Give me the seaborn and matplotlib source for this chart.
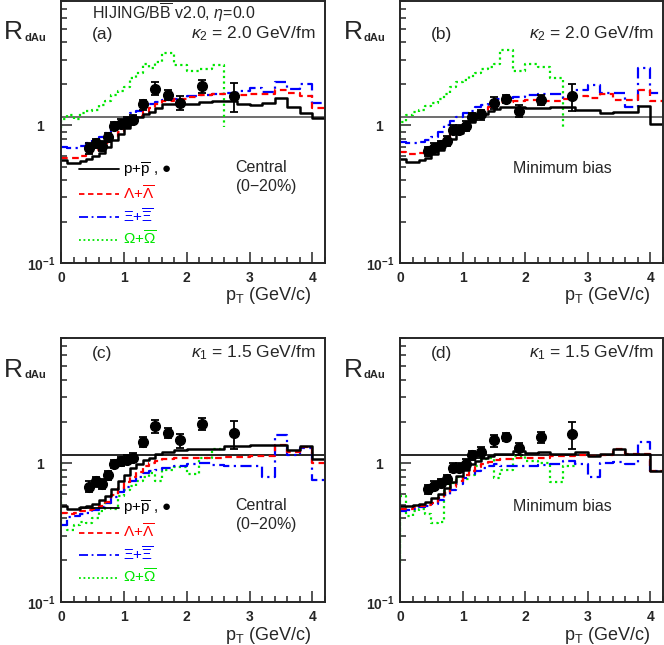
import numpy as np
import matplotlib
matplotlib.use("Agg")
import matplotlib.pyplot as plt
from matplotlib.ticker import MultipleLocator, LogLocator, NullFormatter
from matplotlib.lines import Line2D
import seaborn as sns

# bin edges of the model histograms (GeV/c)
edges = [0.0, 0.1, 0.2, 0.3, 0.4, 0.5, 0.6, 0.7, 0.8, 0.9, 1.0, 1.1, 1.2, 1.3, 1.4, 1.5,
         1.6, 1.8, 2.0, 2.2, 2.4, 2.6, 2.8, 3.0, 3.2, 3.4, 3.6, 3.8, 4.0, 4.2]

# (a) central, kappa2
pp_a = [0.56, 0.53, 0.53, 0.55, 0.57, 0.60, 0.63, 0.70, 0.78, 0.86, 0.95, 1.05, 1.14, 1.20, 1.26, 1.33,
        1.42, 1.44, 1.44, 1.48, 1.50, 1.50, 1.44, 1.40, 1.46, 1.58, 1.35, 1.23, 1.13]
lam_a = [0.58, 0.58, 0.58, 0.60, 0.63, 0.66, 0.70, 0.75, 0.82, 0.90, 0.99, 1.07, 1.17, 1.25, 1.33, 1.42,
         1.50, 1.55, 1.60, 1.66, 1.70, 1.70, 1.66, 1.70, 1.70, 1.80, 1.72, 1.62, 1.33]
xi_a = [0.70, 0.69, 0.69, 0.71, 0.74, 0.78, 0.82, 0.88, 0.95, 1.03, 1.12, 1.22, 1.28, 1.35, 1.42, 1.48,
        1.52, 1.56, 1.62, 1.65, 1.68, 1.72, 1.78, 1.86, 1.75, 2.07, 1.85, 2.00, 1.45]
om_a = [1.12, 1.18, 1.12, 1.22, 1.28, 1.30, 1.40, 1.50, 1.65, 1.78, 1.90, 2.20, 2.40, 2.80, 2.60, 2.90,
        3.35, 2.75, 2.50, 2.55, 2.75]
om_a_start = [0.95]
om_a_end = [0.98]

# (b) minimum bias, kappa2
pp_b = [0.57, 0.54, 0.54, 0.56, 0.58, 0.62, 0.66, 0.73, 0.80, 0.88, 0.96, 1.05, 1.14, 1.20, 1.27, 1.32,
        1.37, 1.35, 1.33, 1.33, 1.36, 1.36, 1.30, 1.29, 1.23, 1.25, 1.26, 1.38, 1.03]
lam_b = [0.64, 0.62, 0.62, 0.63, 0.66, 0.70, 0.74, 0.80, 0.88, 0.97, 1.05, 1.12, 1.20, 1.28, 1.35, 1.42,
         1.48, 1.50, 1.52, 1.50, 1.50, 1.55, 1.62, 1.57, 1.70, 1.52, 1.52, 1.80, 1.50]
xi_b = [0.76, 0.74, 0.74, 0.76, 0.78, 0.82, 0.90, 1.00, 1.08, 1.15, 1.22, 1.28, 1.35, 1.40, 1.48, 1.55,
        1.58, 1.60, 1.65, 1.70, 1.68, 1.58, 1.80, 1.95, 1.72, 1.72, 1.35, 2.60, 1.72]
om_b = [1.05, 1.18, 1.25, 1.30, 1.38, 1.45, 1.55, 1.70, 1.90, 2.05, 2.13, 2.30, 2.40, 2.55, 2.65, 2.80,
        3.50, 2.50, 2.80, 2.66, 2.20]
om_b_start = [0.75]
om_b_end = [0.98]

# (c) central, kappa1
pp_c = [0.49, 0.47, 0.47, 0.48, 0.49, 0.51, 0.54, 0.58, 0.65, 0.74, 0.83, 0.92, 0.99, 1.05, 1.10, 1.16,
        1.20, 1.24, 1.27, 1.26, 1.26, 1.33, 1.33, 1.36, 1.36, 1.36, 1.25, 1.33, 1.07]
lam_c = [0.44, 0.43, 0.44, 0.45, 0.46, 0.47, 0.49, 0.53, 0.59, 0.66, 0.73, 0.80, 0.87, 0.95, 1.00, 1.04,
         1.08, 1.10, 1.10, 1.10, 1.10, 1.11, 1.11, 1.12, 1.12, 1.35, 1.20, 1.30, 1.00]
xi_c = [0.36, 0.41, 0.42, 0.43, 0.44, 0.46, 0.48, 0.52, 0.57, 0.62, 0.68, 0.74, 0.80, 0.85, 0.88, 0.90,
        0.92, 0.95, 0.98, 1.00, 0.97, 0.96, 0.96, 0.95, 0.79, 1.59, 1.14, 1.28, 0.76]
om_c = [0.36, 0.33, 0.36, 0.38, 0.37, 0.40, 0.45, 0.52, 0.47, 0.58, 0.64, 0.69, 0.74, 0.80, 0.85, 0.75,
        0.90, 0.94, 0.84, 1.10, 1.27]
om_c_start = [1.0]
om_c_end = []

# (d) minimum bias, kappa1
pp_d = [0.49, 0.49, 0.50, 0.51, 0.53, 0.56, 0.60, 0.66, 0.73, 0.81, 0.90, 0.98, 1.04, 1.09, 1.13, 1.16,
        1.17, 1.22, 1.19, 1.20, 1.16, 1.17, 1.20, 1.12, 1.16, 1.27, 1.16, 1.16, 0.88]
lam_d = [0.47, 0.47, 0.48, 0.49, 0.50, 0.52, 0.56, 0.61, 0.67, 0.74, 0.82, 0.88, 0.94, 0.98, 1.02, 1.05,
         1.07, 1.09, 1.10, 1.10, 1.12, 1.12, 1.14, 1.12, 1.15, 1.27, 1.16, 1.16, 0.88]
xi_d = [0.45, 0.46, 0.47, 0.48, 0.49, 0.51, 0.54, 0.59, 0.64, 0.71, 0.78, 0.84, 0.88, 0.92, 0.96, 0.98,
        0.95, 0.96, 0.95, 0.97, 0.98, 1.04, 0.99, 0.80, 1.00, 1.02, 0.99, 1.42, 0.88]
om_d = [0.58, 0.42, 0.45, 0.47, 0.43, 0.37, 0.38, 0.63, 0.72, 0.80, 0.77, 0.83, 0.95, 1.08, 1.10, 0.78,
        0.90, 1.12, 1.04, 1.00, 0.73, 0.96]
om_d_start = [1.0, 0.19]
om_d_end = []

# measured p+pbar R_dAu
pt_data = [0.45, 0.55, 0.65, 0.75, 0.85, 0.95, 1.05, 1.15, 1.3, 1.5, 1.7, 1.9, 2.25, 2.75]
r_central = [0.68, 0.74, 0.71, 0.82, 0.99, 1.03, 1.06, 1.10, 1.42, 1.85, 1.66, 1.46, 1.93, 1.64]
err_central = [0.06, 0.06, 0.06, 0.06, 0.07, 0.08, 0.08, 0.08, 0.12, 0.20, 0.14, 0.17, 0.20, 0.38]
r_minbias = [0.65, 0.69, 0.72, 0.77, 0.93, 0.93, 0.99, 1.14, 1.20, 1.46, 1.55, 1.28, 1.54, 1.63]
err_minbias = [0.05, 0.05, 0.05, 0.06, 0.07, 0.07, 0.08, 0.08, 0.10, 0.15, 0.10, 0.13, 0.13, 0.36]

ref_level = 1.14

sns.set_style("ticks")
plt.rcParams['font.family'] = ['Liberation Sans', 'DejaVu Sans']
plt.rcParams['mathtext.fontset'] = 'custom'
plt.rcParams['mathtext.rm'] = 'Liberation Sans'
plt.rcParams['mathtext.it'] = 'Liberation Sans:italic'
plt.rcParams['mathtext.bf'] = 'Liberation Sans:bold'
plt.rcParams['mathtext.default'] = 'regular'

RED, BLUE, GREEN = '#ff0000', '#0000ff', '#00e600'


def hist_line(ax, vals, color, ls, lw, start=(), end=()):
    x = list(edges[:len(vals) + 1])
    y = list(vals) + [vals[-1]]
    x = [0.0] * len(start) + x
    y = list(start) + y
    if len(end):
        x = x + [x[-1]] * len(end)
        y = y + list(end)
    sns.lineplot(x=x, y=y, drawstyle='steps-post', estimator=None, sort=False,
                 color=color, linestyle=ls, lw=lw, ax=ax)


def panel(ax, pp, lam, xi, om, om_start, om_end, rdata, edata, tag, kappa, label, ref_color):
    ax.set_yscale('log')
    ax.axhline(ref_level, color=ref_color, lw=1.2, zorder=1)
    hist_line(ax, om, GREEN, (0, (1, 1.5)), 1.6, om_start, om_end)
    hist_line(ax, xi, BLUE, (0, (5, 2, 1, 2)), 1.6)
    hist_line(ax, lam, RED, (0, (3, 2)), 1.6)
    hist_line(ax, pp, 'black', '-', 1.8)
    ax.errorbar(pt_data, rdata, yerr=edata, fmt='o', color='black', ms=7,
                capsize=3, elinewidth=1.3, capthick=1.3, zorder=5)

    ax.set_xlim(0, 4.2)
    ax.set_ylim(0.1, 8.0)
    ax.set_xticks([0, 1, 2, 3, 4])
    ax.set_xticklabels(['0', '1', '2', '3', '4'], fontweight='bold')
    ax.xaxis.set_minor_locator(MultipleLocator(0.2))
    ax.set_yticks([0.1, 1])
    ax.set_yticklabels([r'$\mathbf{10^{-1}}$', r'$\mathbf{1}$'])
    ax.yaxis.set_minor_locator(LogLocator(base=10, subs=np.arange(2, 10)))
    ax.yaxis.set_minor_formatter(NullFormatter())
    ax.tick_params(which='both', direction='in', top=False, right=False, labelsize=10, width=1.1)
    ax.tick_params(axis='y', which='major', length=8, pad=4)
    ax.tick_params(axis='y', which='minor', length=4)
    ax.tick_params(axis='x', which='major', length=8, pad=6)
    ax.tick_params(axis='x', which='minor', length=4)
    ax.get_yticklabels()[1].set_x(-0.037)
    for s in ax.spines.values():
        s.set_linewidth(1.4)
    ax.set_xlabel('')
    ax.set_ylabel('')

    ax.text(-0.215, 0.880, 'R', transform=ax.transAxes,
            fontsize=19, ha='left', va='center')
    ax.text(-0.138, 0.858, 'dAu', transform=ax.transAxes,
            fontsize=8, fontweight='bold', ha='left', va='center')
    ax.text(0.95, -0.125, r'p$_\mathrm{T}$ (GeV/c)', transform=ax.transAxes,
            fontsize=13, ha='right', va='center')
    ax.text(0.117, tag[1], tag[0], transform=ax.transAxes, fontsize=12.5,
            ha='left', va='center')
    ax.text(0.965, tag[1], kappa, transform=ax.transAxes, fontsize=12.5,
            ha='right', va='center')
    ax.text(label[1], label[2], label[0], transform=ax.transAxes, fontsize=11.5,
            ha='left', va='center', linespacing=1.15)


fig = plt.figure(figsize=(6.64, 6.45), dpi=100)
ax_a = fig.add_axes([61 / 664, 1 - 263 / 645, 264 / 664, 262 / 645])
ax_b = fig.add_axes([400 / 664, 1 - 263 / 645, 263 / 664, 262 / 645])
ax_c = fig.add_axes([61 / 664, 1 - 602 / 645, 264 / 664, 264 / 645])
ax_d = fig.add_axes([400 / 664, 1 - 602 / 645, 263 / 664, 264 / 645])

k2 = r'$\mathit{\kappa}_2$ = 2.0 GeV/fm'
k1 = r'$\mathit{\kappa}_1$ = 1.5 GeV/fm'
central = ('Central\n(0$-$20%)', 0.66, 0.325)
minbias = ('Minimum bias', 0.43, 0.36)

panel(ax_a, pp_a, lam_a, xi_a, om_a, om_a_start, om_a_end, r_central, err_central,
      ('(a)', 0.874), k2, central, '#555555')
panel(ax_b, pp_b, lam_b, xi_b, om_b, om_b_start, om_b_end, r_minbias, err_minbias,
      ('(b)', 0.874), k2, minbias, '#555555')
panel(ax_c, pp_c, lam_c, xi_c, om_c, om_c_start, om_c_end, r_central, err_central,
      ('(c)', 0.943), k1, central, 'black')
panel(ax_d, pp_d, lam_d, xi_d, om_d, om_d_start, om_d_end, r_minbias, err_minbias,
      ('(d)', 0.943), k1, minbias, 'black')

ax_a.text(0.117, 0.955, r'HIJING/B$\overline{\mathrm{B}}$ v2.0, $\mathit{\eta}$=0.0',
          transform=ax_a.transAxes, fontsize=11.5, ha='left', va='center')

# legends in the central panels
for ax in (ax_a, ax_c):
    handles = [Line2D([], [], color='black', lw=1.3),
               Line2D([], [], color=RED, lw=1.3, ls=(0, (3, 2))),
               Line2D([], [], color=BLUE, lw=1.3, ls=(0, (5, 2, 1, 2))),
               Line2D([], [], color=GREEN, lw=1.3, ls=(0, (1, 1.5)))]
    labels = [r'p+$\overline{\mathrm{p}}$ , ●', r'$\Lambda$+$\overline{\Lambda}$',
              r'$\Xi$+$\overline{\Xi}$', r'$\Omega$+$\overline{\Omega}$']
    ax.legend(handles, labels, loc='upper left', bbox_to_anchor=(0.07, 0.39),
              frameon=False, fontsize=11, handlelength=2.6, handletextpad=0.25,
              labelspacing=0.3, borderpad=0, borderaxespad=0,
              labelcolor=['black', RED, BLUE, GREEN])

fig.savefig('out.png', dpi=100)
